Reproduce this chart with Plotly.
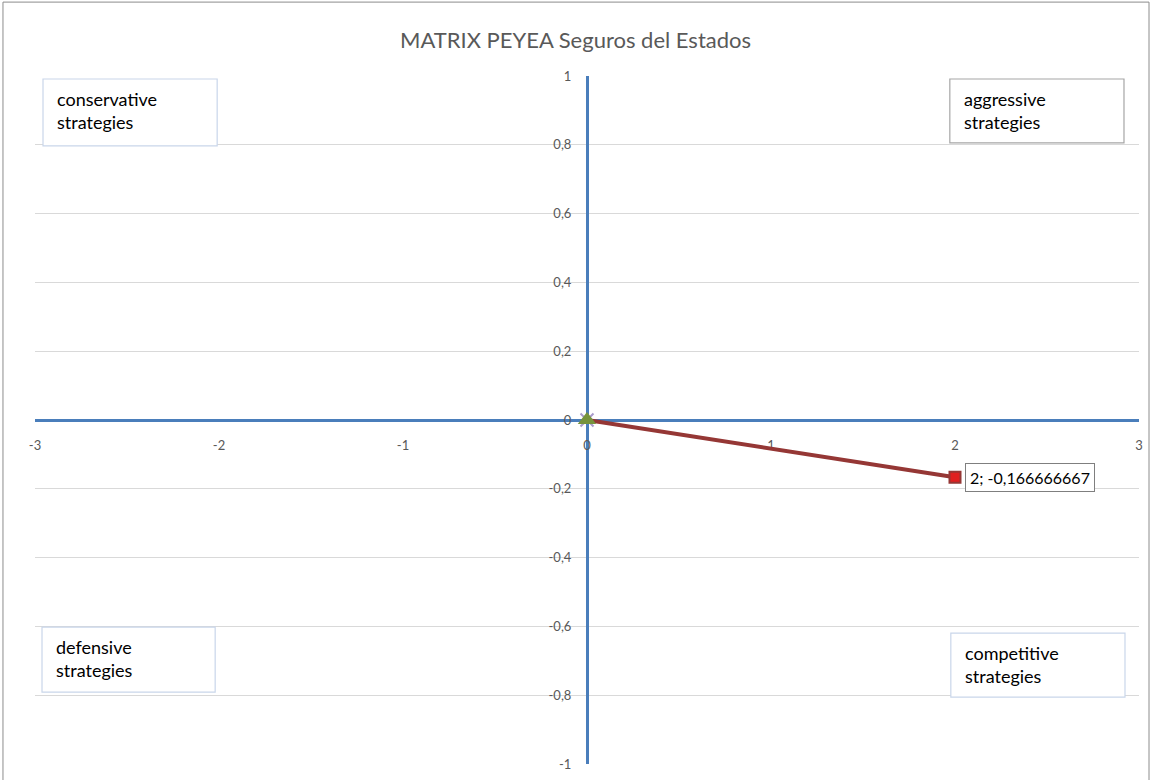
import plotly.graph_objects as go

# data
x_vals = [0, 2]
y_vals = [0, -0.166666667]
point_label = "2; -0,166666667"
x_ticks = [-3, -2, -1, 0, 1, 2, 3]
x_ticktext = ["-3", "-2", "-1", "0", "1", "2", "3"]
y_ticks = [-1, -0.8, -0.6, -0.4, -0.2, 0, 0.2, 0.4, 0.6, 0.8, 1]
y_ticktext = ["-1", "-0,8", "-0,6", "-0,4", "-0,2", "0", "0,2", "0,4", "0,6", "0,8", "1"]
quadrant_labels = ["conservative<br>strategies", "aggressive<br>strategies",
                   "defensive<br>strategies", "competitive<br>strategies"]

W, H = 1151, 780
L, R, T, B = 35, 8, 76, 10
FONT = "Lato, DejaVu Sans"

# plot area as seen on screen
SL, SR, ST, SB = 35, 1138, 76, 765

def px(x):
    return (x - SL) / (SR - SL)

def py(y):
    return (SB - y) / (SB - ST)

fig = go.Figure()

fig.add_trace(go.Scatter(
    x=x_vals, y=y_vals, mode="lines",
    line=dict(color="#953735", width=4), showlegend=False, hoverinfo="skip"))
fig.add_trace(go.Scatter(
    x=[x_vals[0]], y=[y_vals[0]], mode="markers",
    marker=dict(symbol="x-thin", size=13, line=dict(color="#a99bcb", width=2)),
    showlegend=False))
fig.add_trace(go.Scatter(
    x=[x_vals[0]], y=[y_vals[0]], mode="markers",
    marker=dict(symbol="triangle-up", size=16, color="#77933C"),
    showlegend=False))
fig.add_trace(go.Scatter(
    x=[x_vals[1]], y=[y_vals[1]], mode="markers",
    marker=dict(symbol="square", size=11, color="#E02020", line=dict(color="#953735", width=2)),
    showlegend=False))

fig.add_annotation(
    x=x_vals[1], y=y_vals[1], xref="x", yref="y", text=point_label,
    showarrow=False, xanchor="left", yanchor="middle", xshift=10,
    font=dict(family=FONT, size=16, color="#000000"),
    bgcolor="white", bordercolor="#7f7f7f", borderwidth=1, borderpad=4)

# quadrant boxes: (left, top, right, bottom) in screen pixels, border colour
boxes = [
    ((43, 79, 217, 146), "#c9d6ea"),
    ((949, 79, 1123, 143), "#a6a6a6"),
    ((42, 628, 215, 693), "#c9d6ea"),
    ((950, 634, 1124, 698), "#c9d6ea"),
]
for (bx, col), txt in zip(boxes, quadrant_labels):
    x0, y0, x1, y1 = bx
    fig.add_shape(type="rect", xref="paper", yref="paper",
                  x0=px(x0), x1=px(x1), y0=py(y1), y1=py(y0),
                  line=dict(color=col, width=1.2), fillcolor="white", layer="above")
    fig.add_annotation(xref="paper", yref="paper", x=px(x0 + 12), y=py(y0 + 7),
                       xanchor="left", yanchor="top", text=txt, showarrow=False,
                       align="left",
                       font=dict(family=FONT, size=18, color="#000000"))

# outer frame
fig.add_shape(type="rect", xref="paper", yref="paper",
              x0=px(3), x1=px(1148), y0=py(800), y1=py(2),
              line=dict(color="#8c8c8c", width=1), layer="below")

fig.update_layout(
    width=W, height=H,
    margin=dict(l=L, r=R, t=T, b=B),
    paper_bgcolor="white", plot_bgcolor="white",
    title=dict(text="MATRIX PEYEA Seguros del Estados", x=0.5, xanchor="center",
               y=1 - 40 / H, yanchor="middle",
               font=dict(family=FONT, size=22, color="#595959")),
    xaxis=dict(range=[-3, 3], tickvals=x_ticks, ticktext=x_ticktext,
               showgrid=False, zeroline=False, showline=True, layer="below traces",
               linecolor="#4a7ebb", linewidth=3, anchor="free", position=0.5,
               ticks="", ticklabelstandoff=12,
               tickfont=dict(family=FONT, size=13, color="#595959")),
    yaxis=dict(range=[-1, 1], tickvals=y_ticks, ticktext=y_ticktext,
               showgrid=True, gridcolor="#d9d9d9", gridwidth=1, layer="below traces",
               zeroline=False, showline=True,
               linecolor="#4a7ebb", linewidth=3, anchor="free", position=0.5,
               ticks="", ticklabelstandoff=12,
               tickfont=dict(family=FONT, size=13, color="#595959")),
)

fig.write_html(
    "out.html",
    config={"displayModeBar": False},
    post_script=("document.body.style.margin='0';"
                 "document.body.style.overflow='hidden';"
                 "document.documentElement.style.overflow='hidden';"),
)
